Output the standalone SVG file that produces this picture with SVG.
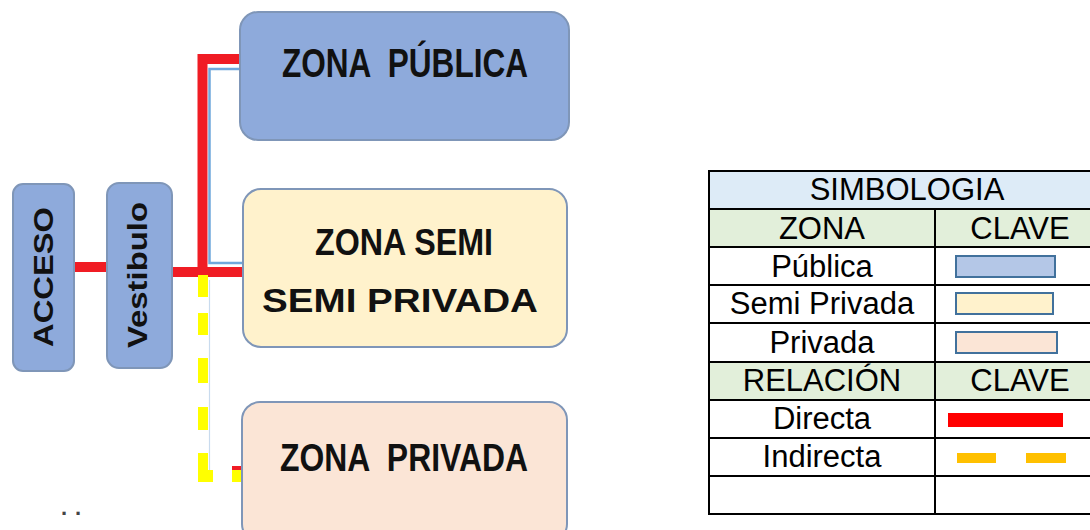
<svg xmlns="http://www.w3.org/2000/svg" width="1090" height="530" viewBox="0 0 1090 530">
<style>
.zone{stroke:#7f96b8;stroke-width:2}
.pub{fill:#8eaadb}
.semi{fill:#fff2cc}
.priv{fill:#fbe5d6}
.bt{font-family:"Liberation Sans",Arial,sans-serif;font-weight:bold;fill:#111;text-anchor:middle;white-space:pre}
.tt{font-family:"Liberation Sans",Arial,sans-serif;font-size:31px;fill:#000;text-anchor:middle}
.grid{stroke:#000;stroke-width:2;fill:none}
.red{stroke:#f01c24;stroke-width:10;fill:none}
.yel{fill:#ffff00}
</style>
<rect width="1090" height="530" fill="#ffffff"/>

<g id="connectors">
  <path d="M241,69 H209.5 V263 H243" stroke="#6fa8dc" stroke-width="2.5" fill="none"/>
  <line x1="209.5" y1="280" x2="209.5" y2="470" stroke="#c9dbee" stroke-width="1.2"/>
  <path class="red" d="M242,59 H202.5 V272 H244"/>
  <path class="red" d="M172,272 H203"/>
  <path class="red" d="M74,267 H108"/>
  <rect class="yel" x="198" y="275" width="10" height="22"/>
  <rect class="yel" x="198" y="313" width="10" height="22"/>
  <rect class="yel" x="198" y="358" width="10" height="25"/>
  <rect class="yel" x="198" y="407" width="10" height="23"/>
  <rect class="yel" x="198" y="453" width="10" height="29"/>
  <rect class="yel" x="198" y="470" width="15" height="12"/>
  <rect class="yel" x="232" y="468" width="18" height="14"/>
  <rect x="232" y="466" width="11" height="4" fill="#f01c24"/>
</g>

<g id="acceso">
  <rect class="zone pub" x="13" y="184" width="61" height="187" rx="10"/>
  <text class="bt" font-size="27" textLength="140" lengthAdjust="spacingAndGlyphs" transform="translate(53,277) rotate(-90)">ACCESO</text>
</g>

<g id="vestibulo">
  <rect class="zone pub" x="107" y="183" width="65" height="185" rx="12"/>
  <text class="bt" font-size="27" textLength="146" lengthAdjust="spacingAndGlyphs" transform="translate(147,275) rotate(-90)">Vestibulo</text>
</g>

<g id="zona-publica">
  <rect class="zone pub" x="240" y="12" width="329" height="128" rx="18"/>
  <text class="bt" x="405" y="77" font-size="40" textLength="246" lengthAdjust="spacingAndGlyphs">ZONA  PÚBLICA</text>
</g>

<g id="zona-semi">
  <rect class="zone semi" x="243" y="189" width="324" height="158" rx="18"/>
  <text class="bt" x="404" y="255" font-size="36" textLength="178" lengthAdjust="spacingAndGlyphs">ZONA SEMI</text>
  <text class="bt" x="400" y="312" font-size="33" textLength="276" lengthAdjust="spacingAndGlyphs">SEMI PRIVADA</text>
</g>

<g id="zona-privada">
  <rect class="zone priv" x="242" y="402" width="325" height="140" rx="18"/>
  <text class="bt" x="404" y="471" font-size="39" textLength="248" lengthAdjust="spacingAndGlyphs">ZONA  PRIVADA</text>
</g>

<text x="75" y="515" font-family="Liberation Sans,Arial,sans-serif" font-size="22" font-weight="bold" fill="#444" text-anchor="middle" letter-spacing="8">..</text>

<g id="simbologia">
  <rect x="709" y="171" width="396" height="38" fill="#ddebf7"/>
  <rect x="709" y="209" width="396" height="38" fill="#e2efda"/>
  <rect x="709" y="362" width="396" height="38" fill="#e2efda"/>
  <rect class="grid" x="709" y="171" width="396" height="343"/>
  <path class="grid" d="M709,209 H1105 M709,247 H1105 M709,285 H1105 M709,323 H1105 M709,362 H1105 M709,400 H1105 M709,438 H1105 M709,476 H1105 M935,209 V514"/>
  <text class="tt" x="907" y="200">SIMBOLOGIA</text>
  <text class="tt" x="822" y="239">ZONA</text>
  <text class="tt" x="1020" y="239">CLAVE</text>
  <text class="tt" x="822" y="277">Pública</text>
  <text class="tt" x="822" y="314">Semi Privada</text>
  <text class="tt" x="822" y="353">Privada</text>
  <text class="tt" x="822" y="391">RELACIÓN</text>
  <text class="tt" x="1020" y="391">CLAVE</text>
  <text class="tt" x="822" y="429">Directa</text>
  <text class="tt" x="822" y="467">Indirecta</text>
  <rect x="956" y="256" width="99" height="21" fill="#b4c7e7" stroke="#41719c" stroke-width="2"/>
  <rect x="956" y="293" width="97" height="21" fill="#fff2cc" stroke="#41719c" stroke-width="2"/>
  <rect x="956" y="332" width="101" height="21" fill="#fbe5d6" stroke="#41719c" stroke-width="2"/>
  <rect x="948" y="413" width="115" height="14" fill="#ff0000"/>
  <rect x="957" y="453" width="39" height="10" fill="#ffc000"/>
  <rect x="1026" y="453" width="40" height="10" fill="#ffc000"/>
</g>
</svg>
